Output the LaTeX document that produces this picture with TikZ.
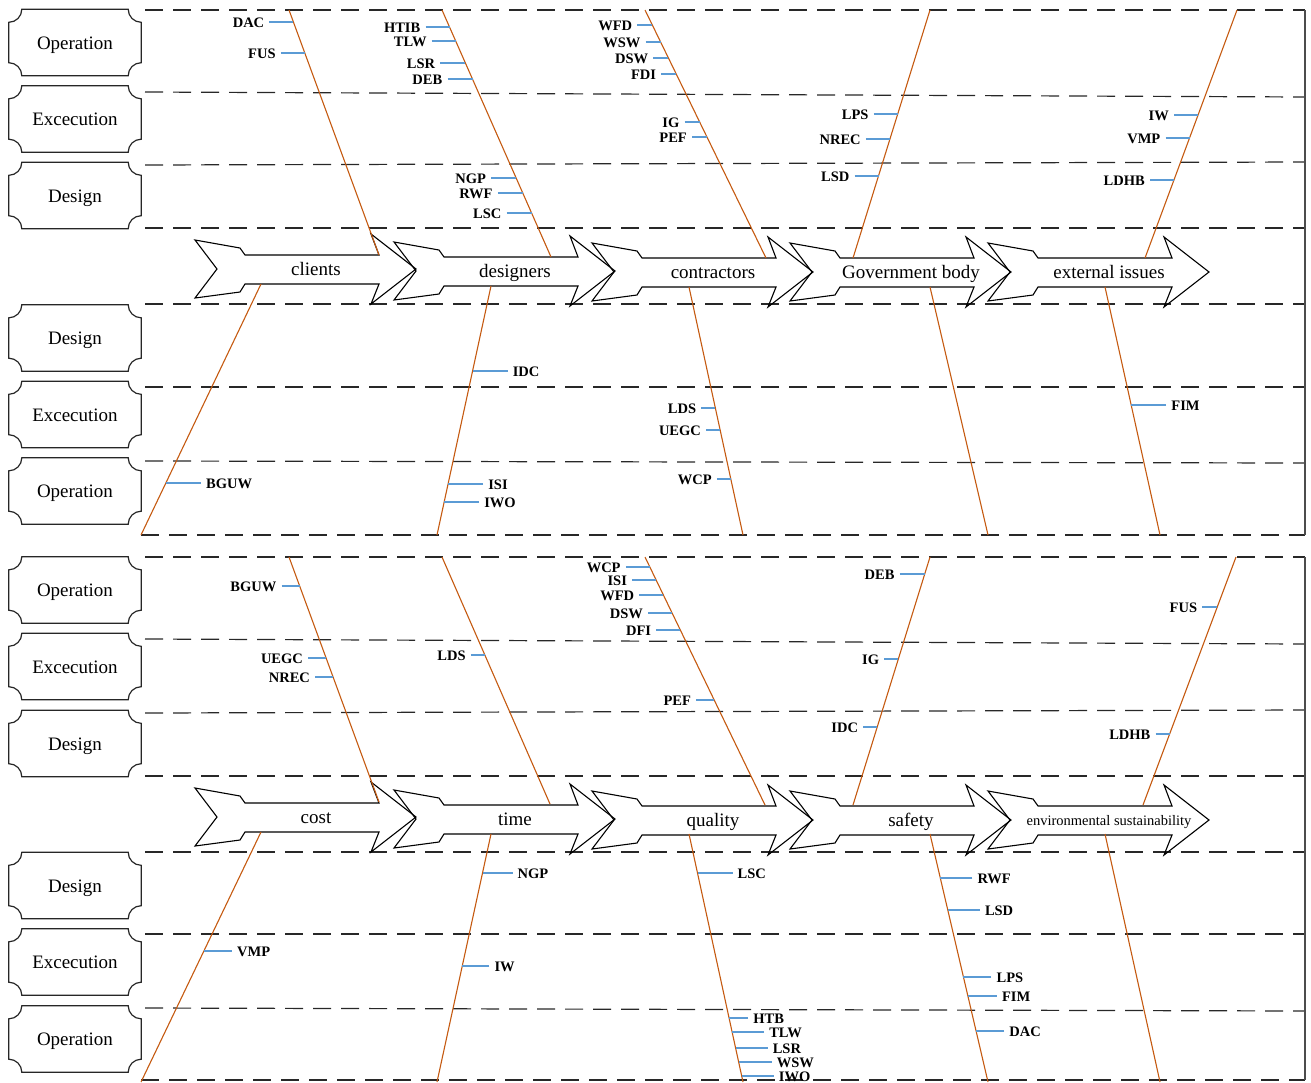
\documentclass[tikz,border=0pt]{standalone}
\usepackage{fontspec}
\setmainfont{Liberation Serif}
\definecolor{boneor}{RGB}{197,90,17}
\definecolor{tickblue}{RGB}{91,155,213}
\definecolor{dashgray}{RGB}{40,40,40}
\tikzset{
 dline/.style={draw=dashgray, line width=1.2pt, dash pattern=on 18pt off 10pt},
 frameline/.style={draw=black!70, line width=1.2pt},
 bone/.style={draw=boneor, line width=1.1pt},
 tick/.style={draw=tickblue, line width=1.3pt},
 lbl/.style={font=\fontsize{14.5}{16}\selectfont\bfseries, inner xsep=5pt, inner ysep=0pt, text height=10pt, text depth=0pt},
 stage/.style={font=\fontsize{19}{22}\selectfont, inner sep=0pt, text height=13pt, text depth=0pt},
 stagesmall/.style={font=\fontsize{14.5}{16}\selectfont, inner sep=0pt, text height=10pt, text depth=0pt},
 plaquebox/.style={minimum width=132pt, minimum height=66pt, inner sep=0pt, text height=13pt, text depth=0pt, font=\fontsize{19}{22}\selectfont},
 plq/.style={draw=black!85, line width=1.2pt},
 chevline/.style={draw=black, line width=1.1pt, line join=miter},
}
\newcommand\plaque[1]{%
 \draw[plq] ([xshift=13pt]#1.north west) -- ([xshift=-13pt]#1.north east)
 .. controls +(0,-7.2) and +(-7.2,0) .. ([yshift=-13pt]#1.north east)
 -- ([yshift=13pt]#1.south east)
 .. controls +(-7.2,0) and +(0,7.2) .. ([xshift=-13pt]#1.south east)
 -- ([xshift=13pt]#1.south west)
 .. controls +(0,7.2) and +(7.2,0) .. ([yshift=13pt]#1.south west)
 -- ([yshift=-13pt]#1.north west)
 .. controls +(7.2,0) and +(0,-7.2) .. cycle;}
\newcommand\chev[1]{%
 \draw[chevline] ([shift={(-121,29)}]#1.center) -- ([shift={(-76,21)}]#1.center)
 -- ([shift={(-71,14)}]#1.center) -- ([shift={(63,14)}]#1.center)
 -- ([shift={(55,35)}]#1.center) -- ([shift={(100,0)}]#1.center)
 -- ([shift={(55,-35)}]#1.center) -- ([shift={(63,-15)}]#1.center)
 -- ([shift={(-71,-15)}]#1.center) -- ([shift={(-76,-23)}]#1.center)
 -- ([shift={(-121,-29)}]#1.center) -- ([shift={(-99,0)}]#1.center) -- cycle;}
\newcommand\labL[5]{%
 \coordinate (#1b) at (#2,-#3);
 \node[lbl,anchor=east] (#1) at ([xshift=-#4pt]#1b) {#5};
 \draw[tick] (#1.east) -- (#1b);}
\newcommand\labR[5]{%
 \coordinate (#1b) at (#2,-#3);
 \node[lbl,anchor=west] (#1) at ([xshift=#4pt]#1b) {#5};
 \draw[tick] (#1.west) -- (#1b);}
\begin{document}
\begin{tikzpicture}[x=1pt,y=1pt]
\useasboundingbox (0,0) rectangle (1311,-1082);
% ---------- dashed row lines ----------
\draw[dline] (145,-10) -- (1305,-10);
\draw[dline] (145,-92) -- (1305,-97);
\draw[dline] (145,-165) -- (1305,-162);
\draw[dline] (145,-228) -- (1305,-228);
\draw[dline] (145,-304) -- (1305,-304);
\draw[dline] (145,-387) -- (1305,-387);
\draw[dline] (145,-461) -- (1305,-463);
\draw[dline] (141,-535) -- (1305,-535);
\draw[dline] (145,-557) -- (1305,-557);
\draw[dline] (145,-639) -- (1305,-644);
\draw[dline] (145,-713) -- (1305,-710);
\draw[dline] (145,-776) -- (1305,-776);
\draw[dline] (145,-852) -- (1305,-852);
\draw[dline] (145,-934) -- (1305,-934);
\draw[dline] (145,-1008) -- (1305,-1011);
\draw[dline] (141,-1080) -- (1305,-1080);
\draw[frameline] (1305,-10) -- (1305,-535);
\draw[frameline] (1305,-557) -- (1305,-1080);
% ---------- row boxes ----------
\node[plaquebox] (op1) at (75,-42.5) {Operation}; \plaque{op1}
\node[plaquebox] (ex1) at (75,-119) {Excecution}; \plaque{ex1}
\node[plaquebox] (de1) at (75,-195.5) {Design}; \plaque{de1}
\node[plaquebox] (de2) at (75,-338) {Design}; \plaque{de2}
\node[plaquebox] (ex2) at (75,-414.5) {Excecution}; \plaque{ex2}
\node[plaquebox] (op2) at (75,-491) {Operation}; \plaque{op2}
\node[plaquebox] (op3) at (75,-590) {Operation}; \plaque{op3}
\node[plaquebox] (ex3) at (75,-666.5) {Excecution}; \plaque{ex3}
\node[plaquebox] (de3) at (75,-743.5) {Design}; \plaque{de3}
\node[plaquebox] (de4) at (75,-885.5) {Design}; \plaque{de4}
\node[plaquebox] (ex4) at (75,-962) {Excecution}; \plaque{ex4}
\node[plaquebox] (op4) at (75,-1039) {Operation}; \plaque{op4}
% ---------- chevrons ----------
\node[stage] (c1) at (316,-269) {clients}; \chev{c1}
\node[stage] (c2) at (515,-271) {designers}; \chev{c2}
\node[stage] (c3) at (713,-272) {contractors}; \chev{c3}
\node[stage] (c4) at (911,-272) {Government body}; \chev{c4}
\node[stage] (c5) at (1109,-272) {external issues}; \chev{c5}
\node[stage] (d1) at (316,-817) {cost}; \chev{d1}
\node[stage] (d2) at (515,-819) {time}; \chev{d2}
\node[stage] (d3) at (713,-820) {quality}; \chev{d3}
\node[stage] (d4) at (911,-820) {safety}; \chev{d4}
\node[stagesmall] (d5) at (1109,-820) {environmental sustainability}; \chev{d5}
% ---------- bones ----------
\draw[bone] (289,-10) coordinate (b1t) -- (379,-255) coordinate (b1b);
\draw[bone] (442,-10) coordinate (b2t) -- (551,-257) coordinate (b2b);
\draw[bone] (645,-10) coordinate (b3t) -- (766,-258) coordinate (b3b);
\draw[bone] (930,-10) coordinate (b4t) -- (853,-258) coordinate (b4b);
\draw[bone] (1237,-10) coordinate (b5t) -- (1145,-258) coordinate (b5b);
\draw[bone] (261,-284) coordinate (l1t) -- (141,-535) coordinate (l1b);
\draw[bone] (491,-286) coordinate (l2t) -- (437,-535) coordinate (l2b);
\draw[bone] (689,-287) coordinate (l3t) -- (743,-535) coordinate (l3b);
\draw[bone] (930,-287) coordinate (l4t) -- (988,-535) coordinate (l4b);
\draw[bone] (1105,-287) coordinate (l5t) -- (1160,-535) coordinate (l5b);
\draw[bone] (289,-557) coordinate (e1t) -- (379,-802) coordinate (e1b);
\draw[bone] (442,-557) coordinate (e2t) -- (550,-804) coordinate (e2b);
\draw[bone] (645,-557) coordinate (e3t) -- (765,-805) coordinate (e3b);
\draw[bone] (930,-557) coordinate (e4t) -- (853,-805) coordinate (e4b);
\draw[bone] (1236,-557) coordinate (e5t) -- (1143,-805) coordinate (e5b);
\draw[bone] (261,-832) coordinate (f1t) -- (141,-1082) coordinate (f1b);
\draw[bone] (491,-834) coordinate (f2t) -- (437,-1082) coordinate (f2b);
\draw[bone] (689,-834) coordinate (f3t) -- (743,-1082) coordinate (f3b);
\draw[bone] (930,-834) coordinate (f4t) -- (988,-1082) coordinate (f4b);
\draw[bone] (1105,-834) coordinate (f5t) -- (1160,-1082) coordinate (f5b);
% ---------- labels, top ----------
\labL{t1}{293.4}{22}{24}{DAC}
\labL{t2}{304.8}{53}{24}{FUS}
\labL{t3}{449.5}{27}{24}{HTIB}
\labL{t4}{455.7}{41}{24}{TLW}
\labL{t5}{465.4}{63}{25}{LSR}
\labL{t6}{472.5}{79}{25}{DEB}
\labL{t7}{516.1}{178}{25}{NGP}
\labL{t8}{522.8}{193}{25}{RWF}
\labL{t9}{531.6}{213}{25}{LSC}
\labL{t10}{652.3}{25}{15}{WFD}
\labL{t11}{660.6}{42}{15}{WSW}
\labL{t12}{668.4}{58}{15}{DSW}
\labL{t13}{676.2}{74}{15}{FDI}
\labL{t14}{699.6}{122}{15}{IG}
\labL{t15}{707}{137}{15}{PEF}
\labL{t16}{897.7}{114}{24}{LPS}
\labL{t17}{889.9}{139}{24}{NREC}
\labL{t18}{878.5}{176}{24}{LSD}
\labL{t19}{1198}{115}{24}{IW}
\labL{t20}{1189.5}{138}{24}{VMP}
\labL{t21}{1174}{180}{24}{LDHB}
\labR{t22}{165.9}{483}{35}{BGUW}
\labR{t23}{472.6}{371}{35}{IDC}
\labR{t24}{448.1}{484}{35}{ISI}
\labR{t25}{444.1}{502}{35}{IWO}
\labL{t26}{715.3}{408}{14}{LDS}
\labL{t27}{720.1}{430}{14}{UEGC}
\labL{t28}{730.8}{479}{14}{WCP}
\labR{t29}{1131.2}{405}{35}{FIM}
% ---------- labels, bottom ----------
\labL{u1}{299.6}{586}{18}{BGUW}
\labL{u2}{326.1}{658}{18}{UEGC}
\labL{u3}{333.1}{677}{18}{NREC}
\labL{u4}{484.8}{655}{14}{LDS}
\labL{u5}{649.8}{567}{24}{WCP}
\labL{u6}{656.1}{580}{24}{ISI}
\labL{u7}{663.4}{595}{24}{WFD}
\labL{u8}{672.1}{613}{24}{DSW}
\labL{u9}{680.3}{630}{24}{DFI}
\labL{u10}{714.2}{700}{18}{PEF}
\labL{u11}{924.7}{574}{25}{DEB}
\labL{u12}{898.3}{659}{14}{IG}
\labL{u13}{877.2}{727}{14}{IDC}
\labL{u14}{1217.25}{607}{15}{FUS}
\labL{u15}{1169.6}{734}{14}{LDHB}
\labR{u16}{203.9}{951}{28}{VMP}
\labR{u17}{482.5}{873}{30}{NGP}
\labR{u18}{462.3}{966}{27}{IW}
\labR{u19}{697.5}{873}{35}{LSC}
\labR{u20}{729.1}{1018}{19}{HTB}
\labR{u21}{732.1}{1032}{32}{TLW}
\labR{u22}{735.6}{1048}{32}{LSR}
\labR{u23}{738.6}{1062}{33}{WSW}
\labR{u24}{741.7}{1076}{32}{IWO}
\labR{u25}{940.3}{878}{32}{RWF}
\labR{u26}{947.8}{910}{32}{LSD}
\labR{u27}{963.4}{977}{28}{LPS}
\labR{u28}{967.9}{996}{29}{FIM}
\labR{u29}{976.1}{1031}{28}{DAC}
\end{tikzpicture}
\end{document}
